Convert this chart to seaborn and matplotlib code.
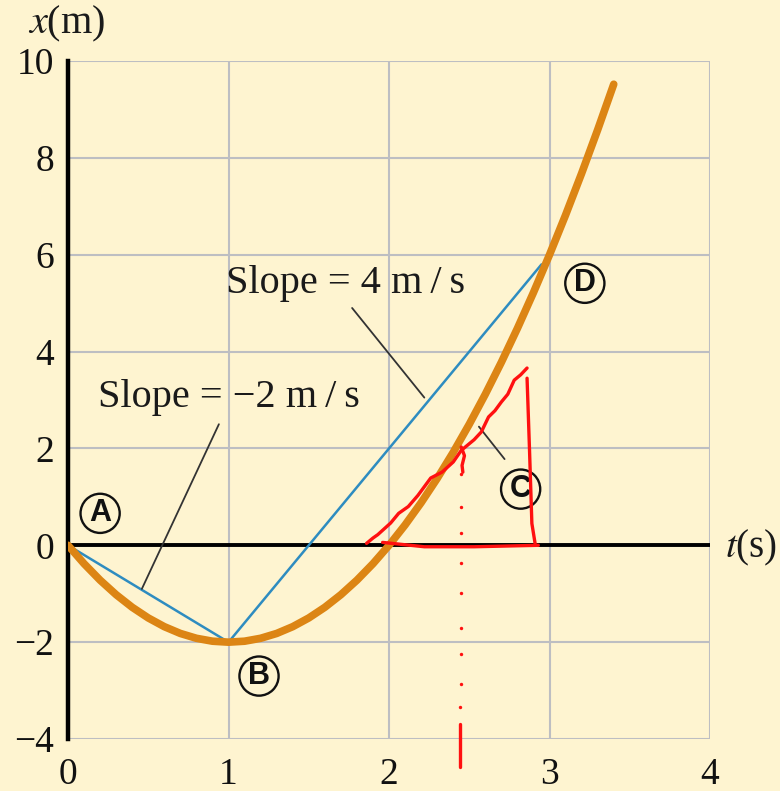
import matplotlib
matplotlib.use("Agg")
import matplotlib.pyplot as plt
import seaborn as sns
import pandas as pd

# position x (m) of the particle versus time t (s)
t_values = [0.0, 0.1, 0.2, 0.3, 0.4, 0.5, 0.6, 0.7, 0.8, 0.9, 1.0, 1.1, 1.2,
            1.3, 1.4, 1.5, 1.6, 1.7, 1.8, 1.9, 2.0, 2.1, 2.2, 2.3, 2.4, 2.5,
            2.6, 2.7, 2.8, 2.9, 3.0, 3.1, 3.2, 3.3, 3.4]
x_values = [0.0, -0.38, -0.72, -1.02, -1.28, -1.5, -1.68, -1.82, -1.92, -1.98,
            -2.0, -1.98, -1.92, -1.82, -1.68, -1.5, -1.28, -1.02, -0.72, -0.38,
            0.0, 0.42, 0.88, 1.38, 1.92, 2.5, 3.12, 3.78, 4.48, 5.22, 6.0,
            6.82, 7.68, 8.58, 9.52]

# secant lines A->B (slope -2 m/s) and B->D (slope 4 m/s)
chord_ab_t = [0.0, 1.0]
chord_ab_x = [0.0, -2.0]
chord_bd_t = [1.0, 2.95]
chord_bd_x = [-2.0, 5.8]

# tick labels
x_ticks = [0, 1, 2, 3, 4]
y_ticks = [-4, -2, 0, 2, 4, 6, 8, 10]
y_tick_labels = ["\u22124", "\u22122", "0", "2", "4", "6", "8", "10"]

# point labels
point_names = ["A", "B", "C", "D"]
point_t = [0.2, 1.19, 2.82, 3.22]
point_x = [0.66, -2.7, 1.16, 5.41]

# red pen sketch: tangent triangle near C and the dotted drop line
pen_hyp_t = [1.86, 1.90, 1.93, 2.01, 2.06, 2.12, 2.18, 2.26, 2.33, 2.40, 2.45,
             2.49, 2.53, 2.575, 2.62, 2.66, 2.70, 2.74, 2.78, 2.82, 2.86]
pen_hyp_x = [0.04, 0.15, 0.22, 0.46, 0.66, 0.80, 1.03, 1.39, 1.51, 1.72, 1.96,
             2.07, 2.18, 2.34, 2.65, 2.78, 2.96, 3.12, 3.41, 3.52, 3.66]
pen_vert_t = [2.86, 2.875, 2.89, 2.91]
pen_vert_x = [3.45, 2.0, 0.45, 0.04]
pen_base_t = [1.96, 2.22, 2.53, 2.93]
pen_base_x = [0.06, -0.03, -0.03, 0.0]
pen_tick_t = [2.45, 2.47, 2.455, 2.46]
pen_tick_x = [2.03, 1.85, 1.65, 1.51]
pen_dot_t = [2.45, 2.45, 2.45, 2.45, 2.45, 2.45, 2.45, 2.45, 2.44]
pen_dot_x = [1.47, 0.79, 0.25, -0.37, -0.99, -1.71, -2.25, -2.87, -3.34]
pen_dash_t = [2.44, 2.44]
pen_dash_x = [-3.68, -4.58]

BG = "#FEF4D0"
ORANGE = "#DC8514"
BLUE = "#2E8CC0"
GRID = "#BDBEC2"
RED = "#FF1010"
SERIF = ["Liberation Serif", "DejaVu Serif"]

sns.set_theme(style="white")
plt.rcParams["font.family"] = SERIF
plt.rcParams["mathtext.fontset"] = "stix"

fig = plt.figure(figsize=(7.8, 7.91), dpi=100, facecolor=BG)
ax = fig.add_axes([0.0872, 0.0657, 0.8231, 0.8572])
ax.set_facecolor(BG)

curve = pd.DataFrame({"t": t_values, "x": x_values})
ab = pd.DataFrame({"t": chord_ab_t, "x": chord_ab_x})
bd = pd.DataFrame({"t": chord_bd_t, "x": chord_bd_x})

ax.set_xlim(0, 4)
ax.set_ylim(-4, 10)
ax.set_xticks(x_ticks)
ax.set_yticks(y_ticks)
ax.set_yticklabels(y_tick_labels)
ax.grid(True, color=GRID, linewidth=1.5)
ax.set_axisbelow(True)
for side in ["top", "right", "bottom"]:
    ax.spines[side].set_visible(False)
ax.spines["left"].set_color("black")
ax.spines["left"].set_linewidth(3.2)
ax.spines["left"].set_zorder(5)
ax.tick_params(axis="both", length=0, labelsize=27, colors="#111111")
ax.tick_params(axis="y", pad=10)
ax.tick_params(axis="x", pad=13)

# time axis at x = 0
ax.axhline(0, color="black", linewidth=2.8, zorder=3)

sns.lineplot(data=ab, x="t", y="x", ax=ax, color=BLUE, linewidth=1.8, zorder=4)
sns.lineplot(data=bd, x="t", y="x", ax=ax, color=BLUE, linewidth=1.8, zorder=4)
sns.lineplot(data=curve, x="t", y="x", ax=ax, color=ORANGE, linewidth=5.5,
             zorder=6, sort=False)
ax.set_xlabel("")
ax.set_ylabel("")

# slope labels with leader lines
ax.text(1.73, 5.4, "Slope = 4 m\u2009/\u2009s", fontsize=29, ha="center",
        va="center", color="#1a1a1a", zorder=7, family=SERIF)
ax.plot([1.77, 2.22], [4.9, 3.05], color="#333333", linewidth=1.3, zorder=7)
ax.text(1.0, 3.05, "Slope = \u22122 m\u2009/\u2009s", fontsize=29, ha="center",
        va="center", color="#1a1a1a", zorder=7, family=SERIF)
ax.plot([0.94, 0.46], [2.5, -0.9], color="#333333", linewidth=1.3, zorder=7)
ax.plot([2.56, 2.72], [2.45, 1.78], color="#333333", linewidth=1.3, zorder=7)

for name, pt, px in zip(point_names, point_t, point_x):
    ax.text(pt, px, name, fontsize=22, fontweight="bold",
            family=["Liberation Sans", "DejaVu Sans"],
            ha="center", va="center", zorder=8, color="#111111",
            bbox=dict(boxstyle="circle,pad=0.15", fc=BG, ec="#111111",
                      lw=1.7))

# axis titles
fig.text(0.036, 0.97, "$x$(m)", fontsize=29, ha="left", va="center",
         color="#1a1a1a")
fig.text(0.929, 0.307, "$t$(s)", fontsize=28, ha="left", va="center",
         color="#1a1a1a")

# red pen sketch
pen = dict(color=RED, linewidth=2.4, zorder=9, solid_capstyle="round",
           clip_on=False)
ax.plot(pen_hyp_t, pen_hyp_x, **pen)
ax.plot(pen_vert_t, pen_vert_x, **pen)
ax.plot(pen_base_t, pen_base_x, **pen)
ax.plot(pen_tick_t, pen_tick_x, **pen)
ax.plot(pen_dash_t, pen_dash_x, **pen)
ax.scatter(pen_dot_t, pen_dot_x, s=6, color=RED, zorder=9, linewidths=0)

fig.savefig("out.png", dpi=100, facecolor=BG)
